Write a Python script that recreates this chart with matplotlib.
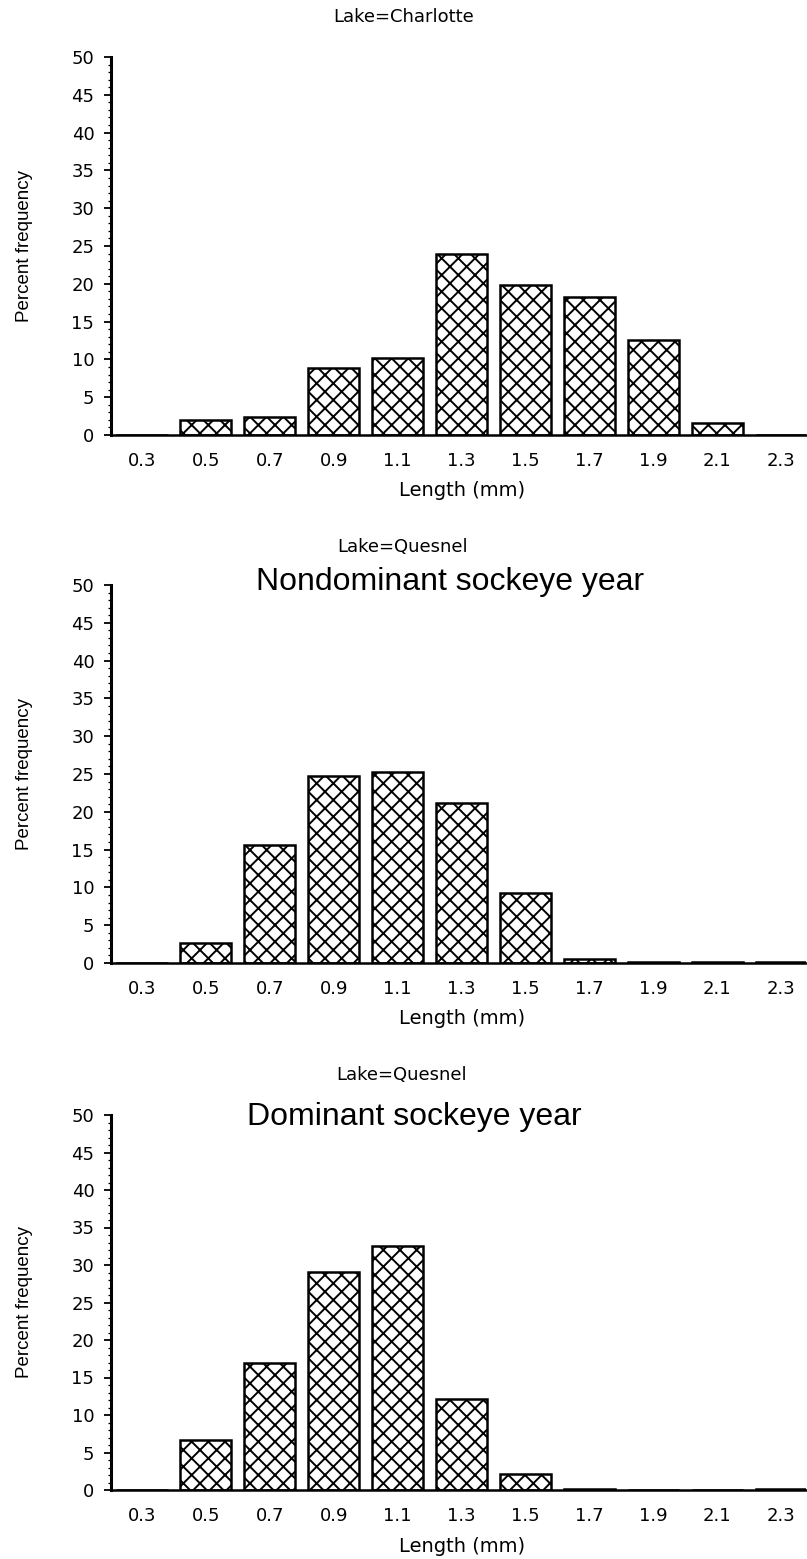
import matplotlib
matplotlib.use("Agg")
import matplotlib.pyplot as plt
import numpy as np

plt.rcParams['hatch.linewidth'] = 1.4

lengths = ["0.3", "0.5", "0.7", "0.9", "1.1", "1.3", "1.5", "1.7", "1.9", "2.1", "2.3"]
charlotte = [0.0, 2.0, 2.4, 8.9, 10.2, 24.0, 19.8, 18.2, 12.6, 1.6, 0.0]
quesnel_nondom = [0.0, 2.7, 15.6, 24.8, 25.3, 21.2, 9.3, 0.5, 0.1, 0.1, 0.1]
quesnel_dom = [0.0, 6.7, 17.0, 29.1, 32.5, 12.2, 2.2, 0.1, 0.0, 0.0, 0.1]

panel_titles = ["Lake=Charlotte", "Lake=Quesnel", "Lake=Quesnel"]
big_titles = [None, "Nondominant sockeye year", "Dominant sockeye year"]
series = [charlotte, quesnel_nondom, quesnel_dom]

W, H = 807, 1559
fig = plt.figure(figsize=(W / 100, H / 100), dpi=100)

# (pixel row of zero line, pixel row of 50)
boxes = [(435, 57), (963, 585), (1490, 1115)]
left_px, right_px = 111, 806
lake_pos = [(404, 17), (403, 547), (402, 1075)]
big_pos = [None, (450, 582), (414, 1117)]
xlabel_off = 56

arial = ['Liberation Sans', 'DejaVu Sans']

for k in range(3):
    zero, top = boxes[k]
    ax = fig.add_axes([left_px / W, 1 - zero / H, (right_px - left_px) / W, (zero - top) / H])
    x = np.arange(len(lengths))
    ax.bar(x, series[k], width=0.8, color='white', edgecolor='black',
           linewidth=1.8, hatch='xx')
    ax.set_xlim(-0.485, 10.39)
    ax.set_ylim(0, 50)
    ax.set_yticks(np.arange(0, 51, 5))
    ax.set_yticks(np.arange(0, 51, 1), minor=True)
    ax.set_xticks(x)
    ax.set_xticklabels(lengths)
    for s in ['top', 'right']:
        ax.spines[s].set_visible(False)
    ax.spines['left'].set_linewidth(2.2)
    ax.spines['bottom'].set_linewidth(1.8)
    ax.tick_params(axis='y', which='major', length=5, width=1.3, labelsize=13, pad=7)
    ax.tick_params(axis='y', which='minor', length=2, width=0.9)
    ax.tick_params(axis='x', which='major', length=0, labelsize=13, pad=12)
    fig.text(25 / W, 1 - (zero + top) / 2 / H, "Percent frequency", fontsize=13.5,
             family=arial, rotation=90, ha='center', va='center')
    fig.text(462 / W, 1 - (zero + xlabel_off) / H, "Length (mm)", fontsize=14,
             ha='center', va='center')
    lx, ly = lake_pos[k]
    fig.text(lx / W, 1 - ly / H, panel_titles[k], fontsize=13, ha='center', va='center')
    if big_titles[k]:
        bx, by = big_pos[k]
        fig.text(bx / W, 1 - by / H, big_titles[k], fontsize=23, ha='center',
                 va='center', family=arial)

fig.savefig("out.png", dpi=100)
